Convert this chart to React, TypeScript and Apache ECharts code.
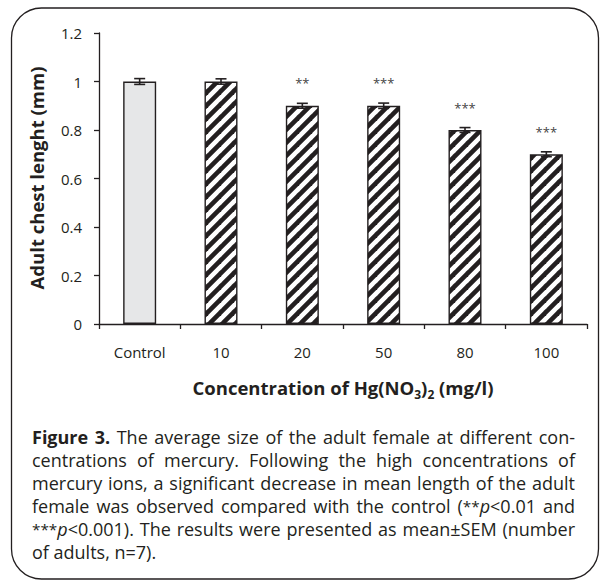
import React, { useEffect, useRef } from "react";
import * as echarts from "echarts";

// ---------- data ----------
const categories = ["Control", "10", "20", "50", "80", "100"];
const meanLength = [1.0, 1.0, 0.9, 0.9, 0.8, 0.7];
const semError = [0.012, 0.011, 0.01, 0.011, 0.01, 0.01];
const significance = ["", "", "**", "***", "***", "***"];
const yMin = 0;
const yMax = 1.2;
const yInterval = 0.2;
const yAxisTitle = "Adult chest lenght (mm)";
const xAxisTitle = "Concentration of Hg(NO{sub|3}){sub|2} (mg/l)";
const captionLines = [
  "{b|Figure} {b|3.} The average size of the adult female at different con-",
  "centrations of mercury. Following the high concentrations of",
  "mercury ions, a significant decrease in mean length of the adult",
  "female was observed compared with the control ({s|**}{i|p}<0.01 and",
  "{s|***}{i|p}<0.001). The results were presented as mean±SEM (number",
  "of adults, n=7).",
];

const FONT = "Open Sans";
const INK = "#231f20";

function makeHatch(): HTMLCanvasElement {
  const P = 13;
  const c = document.createElement("canvas");
  c.width = P;
  c.height = P;
  const g = c.getContext("2d")!;
  g.fillStyle = "#ffffff";
  g.fillRect(0, 0, P, P);
  g.strokeStyle = INK;
  g.lineWidth = 4.6;
  g.lineCap = "square";
  for (const k of [-1, 0, 1]) {
    g.beginPath();
    g.moveTo(k * P, P);
    g.lineTo(k * P + P, 0);
    g.stroke();
  }
  return c;
}

type Run = { style: string; text: string };
function parseRuns(word: string): Run[] {
  const re = /\{(\w+)\|([^}]*)\}|([^{]+)/g;
  const out: Run[] = [];
  let m: RegExpExecArray | null;
  while ((m = re.exec(word))) {
    if (m[1]) out.push({ style: m[1], text: m[2] });
    else out.push({ style: "n", text: m[3] });
  }
  return out;
}

function buildCaption(): any[] {
  const ctx = document.createElement("canvas").getContext("2d")!;
  const X0 = 32;
  const X1 = 575;
  const W = X1 - X0;
  const Y0 = 437;
  const LH = 23;
  let fs = 18;
  const SUP = 0.85;
  const fontFor = (style: string, size: number) => {
    if (style === "b") return `normal bold ${size}px ${FONT}`;
    if (style === "i") return `italic normal ${size}px ${FONT}`;
    if (style === "s") return `normal normal ${size * SUP}px ${FONT}`;
    return `normal normal ${size}px ${FONT}`;
  };
  const measureWord = (w: string, size: number) =>
    parseRuns(w).reduce((acc, r) => {
      ctx.font = fontFor(r.style, size);
      return acc + ctx.measureText(r.text).width;
    }, 0);
  for (let iter = 0; iter < 30; iter++) {
    let ok = true;
    for (let li = 0; li < captionLines.length - 1; li++) {
      const words = captionLines[li].split(" ");
      const tot = words.reduce((a, w) => a + measureWord(w, fs), 0);
      if (tot + (words.length - 1) * 3.5 > W) ok = false;
    }
    if (ok) break;
    fs -= 0.25;
  }
  ctx.font = fontFor("n", fs);
  const spaceW = ctx.measureText(" ").width;
  const rich = {
    b: { fontWeight: "bold", fontSize: fs, fontFamily: FONT, fill: INK, color: INK },
    i: { fontStyle: "italic", fontSize: fs, fontFamily: FONT, fill: INK, color: INK },
    s: { fontSize: fs * SUP, fontFamily: FONT, fill: INK, color: INK },
  };
  const els: any[] = [];
  captionLines.forEach((line, li) => {
    const words = line.split(" ");
    const widths = words.map((w) => measureWord(w, fs));
    const tot = widths.reduce((a, b) => a + b, 0);
    const last = li === captionLines.length - 1;
    const gap = last || words.length < 2 ? spaceW : (W - tot) / (words.length - 1);
    let x = X0;
    words.forEach((w, wi) => {
      els.push({
        type: "text",
        silent: true,
        x,
        y: Y0 + li * LH,
        style: {
          text: w,
          fontSize: fs,
          fontFamily: FONT,
          fill: INK,
          lineHeight: fs * 1.25,
          align: "left",
          verticalAlign: "middle",
          textAlign: "left",
          textVerticalAlign: "middle",
          rich,
        },
      });
      x += widths[wi] + gap;
    });
  });
  return els;
}

export default function App() {
  const ref = useRef<HTMLDivElement>(null);

  useEffect(() => {
    if (!ref.current) return;
    const chart = echarts.init(ref.current, null, { renderer: "svg" });
    const hatch = makeHatch();
    const hatchColor: any = {
      image: hatch,
      repeat: "repeat",
      imageWidth: hatch.width,
      imageHeight: hatch.height,
    };

    const barData = meanLength.map((v, i) => ({
      value: v,
      itemStyle: { color: i === 0 ? "#e6e7e8" : hatchColor },
    }));
    const errData = meanLength.map((v, i) => [i, v, semError[i]]);

    const option: any = {
      animation: false,
      backgroundColor: "#ffffff",
      textStyle: { fontFamily: FONT },
      grid: {
        left: 99,
        right: 13,
        top: 33,
        bottom: 257,
        containLabel: false,
        outerBoundsMode: "none",
      },
      xAxis: {
        type: "category",
        data: categories,
        boundaryGap: true,
        axisLine: { show: true, lineStyle: { color: INK, width: 1.3 } },
        axisTick: { show: true, length: 5, inside: false, alignWithLabel: false, lineStyle: { color: INK, width: 1.3 } },
        axisLabel: { color: INK, fontSize: 15, fontFamily: FONT, margin: 20, interval: 0 },
        splitLine: { show: false },
      },
      yAxis: {
        type: "value",
        min: yMin,
        max: yMax,
        interval: yInterval,
        axisLine: { show: true, lineStyle: { color: INK, width: 1.3 } },
        axisTick: { show: true, length: 5, inside: false, lineStyle: { color: INK, width: 1.3 } },
        axisLabel: { color: INK, fontSize: 15, fontFamily: FONT, margin: 17 },
        splitLine: { show: false },
      },
      series: [
        {
          type: "bar",
          data: barData,
          barWidth: 33,
          itemStyle: { borderColor: INK, borderWidth: 1.4 },
          label: {
            show: true,
            position: "top",
            distance: 16,
            formatter: (p: any) => significance[p.dataIndex],
            fontSize: 13,
            fontFamily: FONT,
            color: "#444444",
          },
          z: 2,
        },
        {
          type: "custom",
          data: errData,
          z: 3,
          renderItem: (_params: any, api: any) => {
            const idx = api.value(0);
            const v = api.value(1);
            const e = api.value(2);
            const hi = api.coord([idx, v + e]);
            const lo = api.coord([idx, v - e]);
            const hw = 5.5;
            const st = { stroke: INK, lineWidth: 1.6 };
            return {
              type: "group",
              children: [
                { type: "line", shape: { x1: hi[0], y1: hi[1], x2: lo[0], y2: lo[1] }, style: st },
                { type: "line", shape: { x1: hi[0] - hw, y1: hi[1], x2: hi[0] + hw, y2: hi[1] }, style: st },
                { type: "line", shape: { x1: lo[0] - hw, y1: lo[1], x2: lo[0] + hw, y2: lo[1] }, style: st },
              ],
            };
          },
        },
      ],
      graphic: [
        {
          type: "rect",
          silent: true,
          z: -1,
          shape: { x: 11.5, y: 8, width: 587, height: 571, r: 30 },
          style: { fill: "none", stroke: INK, lineWidth: 1.3 },
        },
        {
          type: "text",
          silent: true,
          x: 36,
          y: 178,
          rotation: Math.PI / 2,
          style: {
            text: yAxisTitle,
            fontSize: 18.5,
            fontWeight: "bold",
            fontFamily: FONT,
            fill: INK,
            align: "center",
            verticalAlign: "middle",
            textAlign: "center",
            textVerticalAlign: "middle",
          },
        },
        {
          type: "text",
          silent: true,
          x: 343,
          y: 387,
          style: {
            text: xAxisTitle,
            fontSize: 18.5,
            fontWeight: "bold",
            fontFamily: FONT,
            fill: INK,
            lineHeight: 26,
            align: "center",
            verticalAlign: "middle",
            textAlign: "center",
            textVerticalAlign: "middle",
            rich: {
              sub: {
                fontSize: 12,
                fontWeight: "bold",
                fontFamily: FONT,
                fill: INK,
                color: INK,
                lineHeight: 12,
                verticalAlign: "bottom",
              },
            },
          },
        },
        ...buildCaption(),
      ],
    };

    chart.setOption(option);
    return () => chart.dispose();
  }, []);

  return (
    <div
      ref={ref}
      style={{ position: "fixed", left: 0, top: 0, width: 600, height: 581, background: "#fff" }}
    />
  );
}
